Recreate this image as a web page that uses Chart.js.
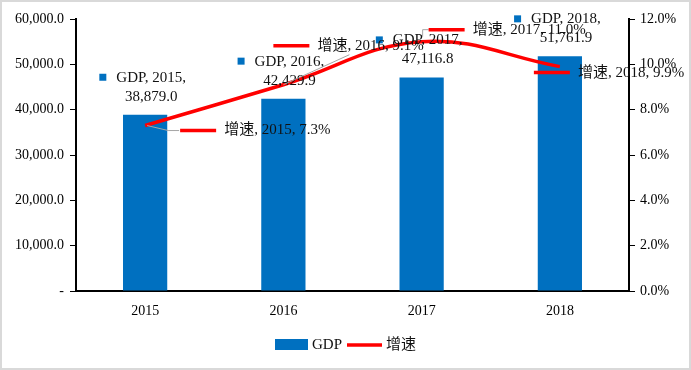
<!DOCTYPE html>
<html>
<head>
<meta charset="utf-8">
<script src="https://cdn.jsdelivr.net/npm/chart.js@4/dist/chart.umd.min.js"></script>
<style>
html,body{margin:0;padding:0;background:#fff;}
canvas{display:block;}
</style>
</head>
<body>
<canvas id="c" width="691" height="370"></canvas>
<script>
const categories = ['2015', '2016', '2017', '2018'];
const gdpValues = [38879.0, 42429.9, 47116.8, 51761.9];
const growthValues = [7.3, 9.1, 11.0, 9.9];
const seriesNames = ['GDP', '增速'];

const FONT = '"Liberation Serif", "Noto Sans CJK SC", serif';
const BLUE = '#0070C0';
const RED = '#FF0000';

function fmtGDP(v) { return v.toLocaleString('en-US', {minimumFractionDigits: 1, maximumFractionDigits: 1}); }
function fmtPct(v) { return v.toFixed(1) + '%'; }

const labelPlugin = {
  id: 'labels',
  beforeDraw(chart) {
    const ctx = chart.ctx;
    ctx.save();
    ctx.fillStyle = '#fff';
    ctx.fillRect(0, 0, chart.width, chart.height);
    ctx.strokeStyle = '#d9d9d9';
    ctx.lineWidth = 2;
    ctx.strokeRect(1, 1, chart.width - 2, chart.height - 2);
    ctx.restore();
  },
  afterDatasetsDraw(chart, args, opts) {
    const ctx = chart.ctx;
    ctx.save();
    ctx.font = '15px ' + FONT;
    ctx.textBaseline = 'middle';
    ctx.fillStyle = '#111';
    // bar labels
    const barMeta = chart.getDatasetMeta(0);
    barMeta.data.forEach((el, i) => {
      const cx = el.x + 6;
      const l1 = seriesNames[0] + ', ' + categories[i] + ',';
      const l2 = fmtGDP(gdpValues[i]);
      const w1 = ctx.measureText(l1).width;
      ctx.textAlign = 'center';
      ctx.fillStyle = '#111';
      ctx.fillText(l1, cx, el.y - 37);
      ctx.fillText(l2, cx, el.y - 18);
      ctx.fillStyle = BLUE;
      ctx.fillRect(cx - w1 / 2 - 17, el.y - 37 - 4, 7, 7);
    });
    // line labels
    const lineMeta = chart.getDatasetMeta(1);
    lineMeta.data.forEach((el, i) => {
      const off = opts.lineOffsets[i];
      const kx = el.x + off[0], ky = el.y + off[1];
      const lead = opts.leaders[i];
      if (lead) {
        ctx.strokeStyle = '#a6a6a6';
        ctx.lineWidth = 1;
        ctx.beginPath();
        ctx.moveTo(el.x + lead[0][0], el.y + lead[0][1]);
        for (let k = 1; k < lead.length; k++) ctx.lineTo(el.x + lead[k][0], el.y + lead[k][1]);
        ctx.stroke();
      }
      ctx.strokeStyle = RED;
      ctx.lineWidth = 3.5;
      ctx.beginPath();
      ctx.moveTo(kx, ky);
      ctx.lineTo(kx + 36, ky);
      ctx.stroke();
      ctx.textAlign = 'left';
      ctx.fillStyle = '#111';
      ctx.fillText(seriesNames[1] + ', ' + categories[i] + ', ' + fmtPct(growthValues[i]), kx + 44, ky);
    });
    ctx.restore();
  },
  afterDraw(chart) {
    const ctx = chart.ctx;
    ctx.save();
    const y = 345;
    ctx.fillStyle = BLUE;
    ctx.fillRect(275, y - 6, 33, 11);
    ctx.font = '15px ' + FONT;
    ctx.textBaseline = 'middle';
    ctx.textAlign = 'left';
    ctx.fillStyle = '#111';
    ctx.fillText(seriesNames[0], 312, y);
    ctx.strokeStyle = RED;
    ctx.lineWidth = 3.5;
    ctx.beginPath();
    ctx.moveTo(347, y);
    ctx.lineTo(382, y);
    ctx.stroke();
    ctx.fillText(seriesNames[1], 386, y);
    ctx.restore();
  }
};

new Chart(document.getElementById('c'), {
  data: {
    labels: categories,
    datasets: [
      {
        type: 'bar',
        label: seriesNames[0],
        data: gdpValues,
        backgroundColor: BLUE,
        yAxisID: 'y',
        barPercentage: 0.32,
        categoryPercentage: 1.0,
        order: 2
      },
      {
        type: 'line',
        label: seriesNames[1],
        data: growthValues,
        borderColor: RED,
        borderWidth: 3.5,
        pointRadius: 0,
        tension: 0.4,
        fill: false,
        yAxisID: 'y1',
        order: 1
      }
    ]
  },
  options: {
    responsive: false,
    animation: false,
    devicePixelRatio: 1,
    layout: {padding: {top: 19, left: 0, right: 0, bottom: 0}},
    plugins: {
      legend: {display: false},
      tooltip: {enabled: false},
      labels: {
        lineOffsets: [[35, 5], [-10, -39], [7, -12], [-26, 6]],
        leaders: [
          [[2, 0], [23, 5], [34, 5]],
          [[0, 0], [66, -30]],
          [[1, -5], [1, -12], [7, -12]],
          null
        ]
      }
    },
    scales: {
      x: {
        grid: {display: false, drawTicks: false},
        border: {display: true, color: '#000', width: 2},
        ticks: {color: '#000', font: {family: FONT, size: 14}, padding: 12},
        afterFit(s) { s.height = 79; }
      },
      y: {
        position: 'left',
        min: 0, max: 60000,
        ticks: {
          stepSize: 10000,
          color: '#000',
          font: {family: FONT, size: 14},
          padding: 6,
          callback: v => v === 0 ? '-' : fmtGDP(v)
        },
        grid: {drawOnChartArea: false, drawTicks: true, tickLength: 6, color: '#000', lineWidth: 1},
        border: {display: true, color: '#000', width: 2},
        afterFit(s) { s.width = 76; }
      },
      y1: {
        position: 'right',
        min: 0, max: 12,
        ticks: {
          stepSize: 2,
          color: '#000',
          font: {family: FONT, size: 14},
          padding: 5,
          callback: v => fmtPct(v)
        },
        grid: {drawOnChartArea: false, drawTicks: true, tickLength: 6, color: '#000', lineWidth: 1},
        border: {display: true, color: '#000', width: 2},
        afterFit(s) { s.width = 62; }
      }
    }
  },
  plugins: [labelPlugin]
});
</script>
</body>
</html>
